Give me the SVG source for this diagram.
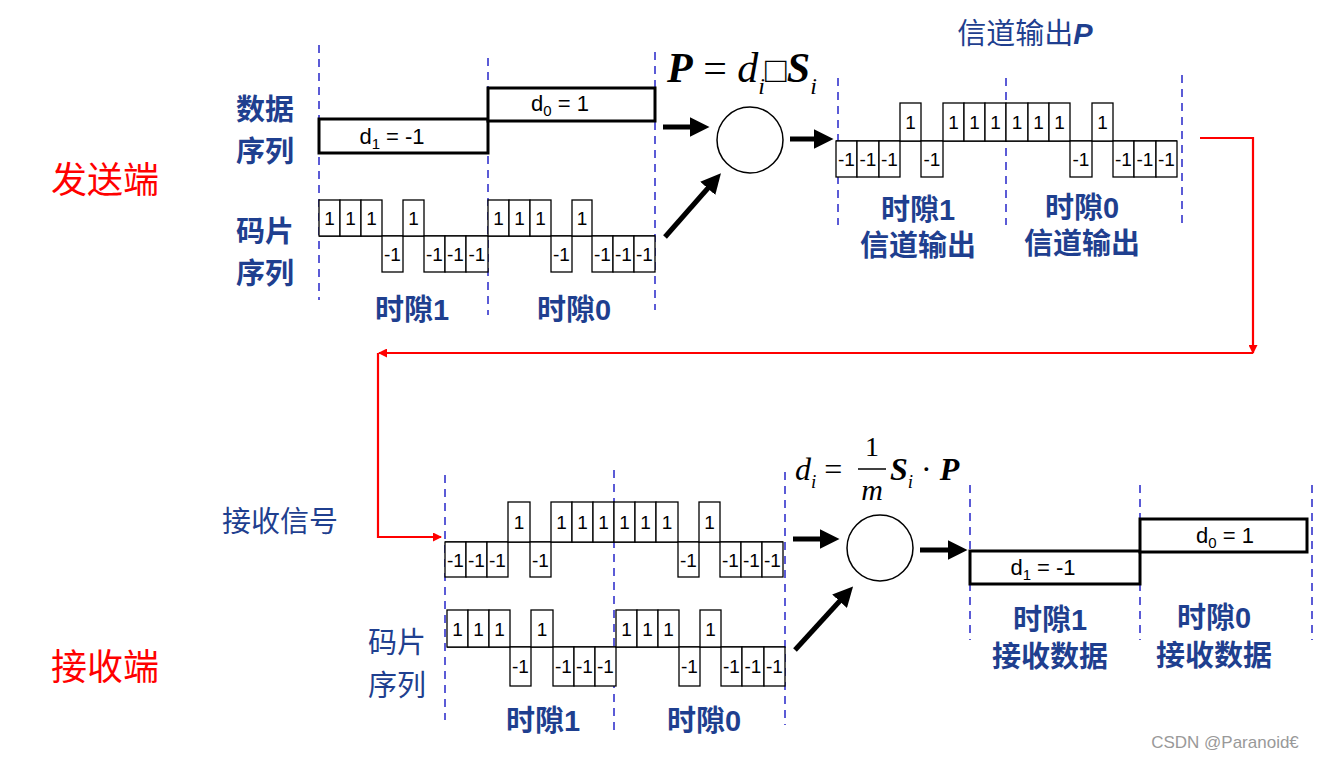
<svg xmlns="http://www.w3.org/2000/svg" width="1324" height="758" viewBox="0 0 1324 758">
<defs>
<style>
.c{fill:#fff;stroke:#000;stroke-width:1.3}
.d{fill:#fff;stroke:#000;stroke-width:3}
.ct{font-family:"Liberation Sans",Arial,sans-serif;font-size:19px;text-anchor:middle;fill:#000}
.dt{font-family:"Liberation Sans",Arial,sans-serif;font-size:22px;text-anchor:middle;fill:#000}
.dash{stroke:#3333CC;stroke-width:1.6;stroke-dasharray:8 6;fill:none}
.b{font-family:"Liberation Sans","Noto Sans CJK SC",sans-serif;font-size:29px;font-weight:bold;fill:#1F3F8F;text-anchor:middle}
.r{font-family:"Noto Sans CJK SC",sans-serif;font-size:36px;fill:#FF0000;text-anchor:middle}
.f{font-family:"Liberation Serif",serif;font-size:34px;fill:#000}
.ar{stroke:#000;stroke-width:5;fill:none;marker-end:url(#ah)}
.red{stroke:#FF0000;stroke-width:2.2;fill:none}
</style>
<marker id="ah" markerWidth="4" markerHeight="4" refX="2.5" refY="2" orient="auto"><path d="M0,0L4,2L0,4z" fill="#000"/></marker>
<marker id="rh" markerWidth="9" markerHeight="9" refX="8" refY="4.5" orient="auto" markerUnits="userSpaceOnUse"><path d="M0,0L9,4.5L0,9z" fill="#FF0000"/></marker>
</defs>
<rect width="1324" height="758" fill="#fff"/>
<g id="guides">
<line class="dash" x1="319" y1="45" x2="319" y2="300"/><line class="dash" x1="488" y1="58" x2="488" y2="315"/><line class="dash" x1="655" y1="52" x2="655" y2="310"/>
<line class="dash" x1="838" y1="78" x2="838" y2="225"/><line class="dash" x1="1006" y1="78" x2="1006" y2="225"/><line class="dash" x1="1182" y1="75" x2="1182" y2="225"/>
<line class="dash" x1="445" y1="475" x2="445" y2="720"/><line class="dash" x1="614" y1="470" x2="614" y2="735"/><line class="dash" x1="785" y1="472" x2="785" y2="725"/>
<line class="dash" x1="970" y1="485" x2="970" y2="640"/><line class="dash" x1="1140" y1="485" x2="1140" y2="640"/><line class="dash" x1="1312" y1="485" x2="1312" y2="640"/>
</g>
<g id="labels">
<text class="r" x="105" y="193">发送端</text><text class="r" x="105" y="680">接收端</text>
<text class="b" x="265" y="120">数据</text><text class="b" x="265" y="162">序列</text>
<text class="b" x="265" y="242">码片</text><text class="b" x="265" y="284">序列</text>
<text class="b" x="412" y="320">时隙1</text><text class="b" x="574" y="320">时隙0</text>
<text class="b" x="918" y="220">时隙1</text><text class="b" x="918" y="256">信道输出</text>
<text class="b" x="1082" y="218">时隙0</text><text class="b" x="1082" y="254">信道输出</text>
<text class="b" x="1025" y="44" style="font-weight:normal">信道输出<tspan font-weight="bold" font-style="italic">P</tspan></text>
<text class="b" x="280" y="532" style="font-weight:normal">接收信号</text>
<text class="b" x="397" y="653" style="font-weight:normal">码片</text><text class="b" x="397" y="696" style="font-weight:normal">序列</text>
<text class="b" x="543" y="731">时隙1</text><text class="b" x="704" y="731">时隙0</text>
<text class="b" x="1050" y="630">时隙1</text><text class="b" x="1050" y="667">接收数据</text>
<text class="b" x="1214" y="628">时隙0</text><text class="b" x="1214" y="666">接收数据</text>
<text x="1225" y="748" style="font-family:'Liberation Sans',sans-serif;font-size:17px;fill:#999;text-anchor:middle">CSDN @Paranoid€</text>
</g>
<g id="formula1">
<text class="f" x="667" y="82" style="font-size:42px"><tspan font-weight="bold" font-style="italic">P</tspan> = <tspan font-style="italic">d</tspan><tspan font-size="24" dy="12" font-style="italic">i</tspan><tspan dy="-12" font-size="36">□</tspan><tspan font-weight="bold" font-style="italic">S</tspan><tspan font-size="24" dy="12" font-style="italic">i</tspan></text>
</g>
<g id="formula2">
<text class="f" x="795" y="480" style="font-size:32px"><tspan font-style="italic">d</tspan><tspan font-size="19" dy="8" font-style="italic">i</tspan><tspan dy="-8"> = </tspan></text>
<text class="f" x="872" y="456" style="font-size:28px" text-anchor="middle">1</text>
<line x1="858" y1="469" x2="886" y2="469" stroke="#000" stroke-width="1.5"/>
<text class="f" x="872" y="500" style="font-size:30px" font-style="italic" text-anchor="middle">m</text>
<text class="f" x="890" y="480" style="font-size:32px"><tspan font-weight="bold" font-style="italic">S</tspan><tspan font-size="19" dy="8" font-style="italic">i</tspan><tspan dy="-8"> · </tspan><tspan font-weight="bold" font-style="italic">P</tspan></text>
</g>
<g id="data-top">
<rect class="d" x="319" y="119" width="169" height="34"/><text class="dt" x="392" y="144">d<tspan font-size="15" dy="5">1</tspan><tspan dy="-5"> = -1</tspan></text>
<rect class="d" x="488" y="88" width="167" height="33"/><text class="dt" x="560" y="111">d<tspan font-size="15" dy="5">0</tspan><tspan dy="-5"> = 1</tspan></text>
</g>
<g id="chips-top">
<line x1="319" y1="236" x2="655" y2="236" stroke="#000" stroke-width="1.3"/>
<rect class="c" x="319" y="200" width="21" height="36"/><rect class="c" x="340" y="200" width="21" height="36"/><rect class="c" x="361" y="200" width="21" height="36"/><rect class="c" x="382" y="236" width="21" height="36"/><rect class="c" x="403" y="200" width="21" height="36"/><rect class="c" x="424" y="236" width="21" height="36"/><rect class="c" x="445" y="236" width="21" height="36"/><rect class="c" x="466" y="236" width="22" height="36"/>
<rect class="c" x="488" y="200" width="21" height="36"/><rect class="c" x="509" y="200" width="21" height="36"/><rect class="c" x="530" y="200" width="21" height="36"/><rect class="c" x="551" y="236" width="21" height="36"/><rect class="c" x="572" y="200" width="20" height="36"/><rect class="c" x="592" y="236" width="21" height="36"/><rect class="c" x="613" y="236" width="21" height="36"/><rect class="c" x="634" y="236" width="21" height="36"/>
<g class="ct"><text x="329.5" y="225">1</text><text x="350.5" y="225">1</text><text x="371.5" y="225">1</text><text x="392.5" y="261">-1</text><text x="413.5" y="225">1</text><text x="434.5" y="261">-1</text><text x="455.5" y="261">-1</text><text x="477" y="261">-1</text>
<text x="498.5" y="225">1</text><text x="519.5" y="225">1</text><text x="540.5" y="225">1</text><text x="561.5" y="261">-1</text><text x="582" y="225">1</text><text x="602.5" y="261">-1</text><text x="623.5" y="261">-1</text><text x="644.5" y="261">-1</text></g>
</g>
<g id="mult-top"><circle cx="750" cy="140" r="33" fill="#fff" stroke="#000" stroke-width="1.5"/></g>
<g id="chan-out">
<line x1="836" y1="141" x2="1177" y2="141" stroke="#000" stroke-width="1.3"/>
<rect class="c" x="836" y="141" width="21" height="36"/><rect class="c" x="857" y="141" width="22" height="36"/><rect class="c" x="879" y="141" width="21" height="36"/><rect class="c" x="900" y="103" width="21" height="38"/><rect class="c" x="921" y="141" width="22" height="36"/><rect class="c" x="943" y="103" width="21" height="38"/><rect class="c" x="964" y="103" width="21" height="38"/><rect class="c" x="985" y="103" width="21" height="38"/>
<rect class="c" x="1006" y="103" width="22" height="38"/><rect class="c" x="1028" y="103" width="21" height="38"/><rect class="c" x="1049" y="103" width="21" height="38"/><rect class="c" x="1070" y="141" width="22" height="36"/><rect class="c" x="1092" y="103" width="21" height="38"/><rect class="c" x="1113" y="141" width="21" height="36"/><rect class="c" x="1134" y="141" width="22" height="36"/><rect class="c" x="1156" y="141" width="21" height="36"/>
<g class="ct"><text x="846.5" y="166">-1</text><text x="868" y="166">-1</text><text x="889.5" y="166">-1</text><text x="910.5" y="129">1</text><text x="932" y="166">-1</text><text x="953.5" y="129">1</text><text x="974.5" y="129">1</text><text x="995.5" y="129">1</text>
<text x="1017" y="129">1</text><text x="1038.5" y="129">1</text><text x="1059.5" y="129">1</text><text x="1081" y="166">-1</text><text x="1102.5" y="129">1</text><text x="1123.5" y="166">-1</text><text x="1145" y="166">-1</text><text x="1166.5" y="166">-1</text></g>
</g>
<g id="recv">
<line x1="445" y1="542" x2="783" y2="542" stroke="#000" stroke-width="1.3"/>
<rect class="c" x="445" y="542" width="21" height="35"/><rect class="c" x="466" y="542" width="21" height="35"/><rect class="c" x="487" y="542" width="21" height="35"/><rect class="c" x="508" y="502" width="22" height="40"/><rect class="c" x="530" y="542" width="21" height="35"/><rect class="c" x="551" y="502" width="21" height="40"/><rect class="c" x="572" y="502" width="21" height="40"/><rect class="c" x="593" y="502" width="21" height="40"/>
<rect class="c" x="614" y="502" width="21" height="40"/><rect class="c" x="635" y="502" width="21" height="40"/><rect class="c" x="656" y="502" width="22" height="40"/><rect class="c" x="678" y="542" width="21" height="35"/><rect class="c" x="699" y="502" width="21" height="40"/><rect class="c" x="720" y="542" width="21" height="35"/><rect class="c" x="741" y="542" width="21" height="35"/><rect class="c" x="762" y="542" width="21" height="35"/>
<g class="ct"><text x="455.5" y="567">-1</text><text x="476.5" y="567">-1</text><text x="497.5" y="567">-1</text><text x="519" y="529">1</text><text x="540.5" y="567">-1</text><text x="561.5" y="529">1</text><text x="582.5" y="529">1</text><text x="603.5" y="529">1</text>
<text x="624.5" y="529">1</text><text x="645.5" y="529">1</text><text x="667" y="529">1</text><text x="688.5" y="567">-1</text><text x="709.5" y="529">1</text><text x="730.5" y="567">-1</text><text x="751.5" y="567">-1</text><text x="772.5" y="567">-1</text></g>
</g>
<g id="chips-bottom">
<line x1="447" y1="647" x2="785" y2="647" stroke="#000" stroke-width="1.3"/>
<rect class="c" x="447" y="610" width="21" height="37"/><rect class="c" x="468" y="610" width="21" height="37"/><rect class="c" x="489" y="610" width="21" height="37"/><rect class="c" x="510" y="647" width="21" height="39"/><rect class="c" x="531" y="610" width="22" height="37"/><rect class="c" x="553" y="647" width="21" height="39"/><rect class="c" x="574" y="647" width="21" height="39"/><rect class="c" x="595" y="647" width="21" height="39"/>
<rect class="c" x="616" y="610" width="21" height="37"/><rect class="c" x="637" y="610" width="21" height="37"/><rect class="c" x="658" y="610" width="21" height="37"/><rect class="c" x="679" y="647" width="21" height="39"/><rect class="c" x="700" y="610" width="21" height="37"/><rect class="c" x="721" y="647" width="21" height="39"/><rect class="c" x="742" y="647" width="22" height="39"/><rect class="c" x="764" y="647" width="21" height="39"/>
<g class="ct"><text x="457.5" y="636">1</text><text x="478.5" y="636">1</text><text x="499.5" y="636">1</text><text x="520.5" y="673">-1</text><text x="542" y="636">1</text><text x="563.5" y="673">-1</text><text x="584.5" y="673">-1</text><text x="605.5" y="673">-1</text>
<text x="626.5" y="636">1</text><text x="647.5" y="636">1</text><text x="668.5" y="636">1</text><text x="689.5" y="673">-1</text><text x="710.5" y="636">1</text><text x="731.5" y="673">-1</text><text x="753" y="673">-1</text><text x="774.5" y="673">-1</text></g>
</g>
<g id="mult-bottom"><circle cx="880" cy="548" r="33" fill="#fff" stroke="#000" stroke-width="1.5"/></g>
<g id="data-bottom">
<rect class="d" x="970" y="551" width="170" height="33"/><text class="dt" x="1043" y="575">d<tspan font-size="15" dy="5">1</tspan><tspan dy="-5"> = -1</tspan></text>
<rect class="d" x="1140" y="519" width="167" height="33"/><text class="dt" x="1225" y="543">d<tspan font-size="15" dy="5">0</tspan><tspan dy="-5"> = 1</tspan></text>
</g>
<g id="connectors">
<line class="ar" x1="663" y1="127" x2="702" y2="127"/>
<line class="ar" x1="665" y1="237" x2="716" y2="179"/>
<line class="ar" x1="790" y1="139" x2="826" y2="139"/>
<line class="ar" x1="793" y1="539" x2="832" y2="539"/>
<line class="ar" x1="795" y1="650" x2="848" y2="592"/>
<line class="ar" x1="920" y1="550" x2="960" y2="550"/>
<path class="red" d="M1200,138H1253V353" marker-end="url(#rh)"/>
<path class="red" d="M1253,353H379" marker-end="url(#rh)"/>
<path class="red" d="M378,353V537H441" marker-end="url(#rh)"/>
</g>
</svg>
